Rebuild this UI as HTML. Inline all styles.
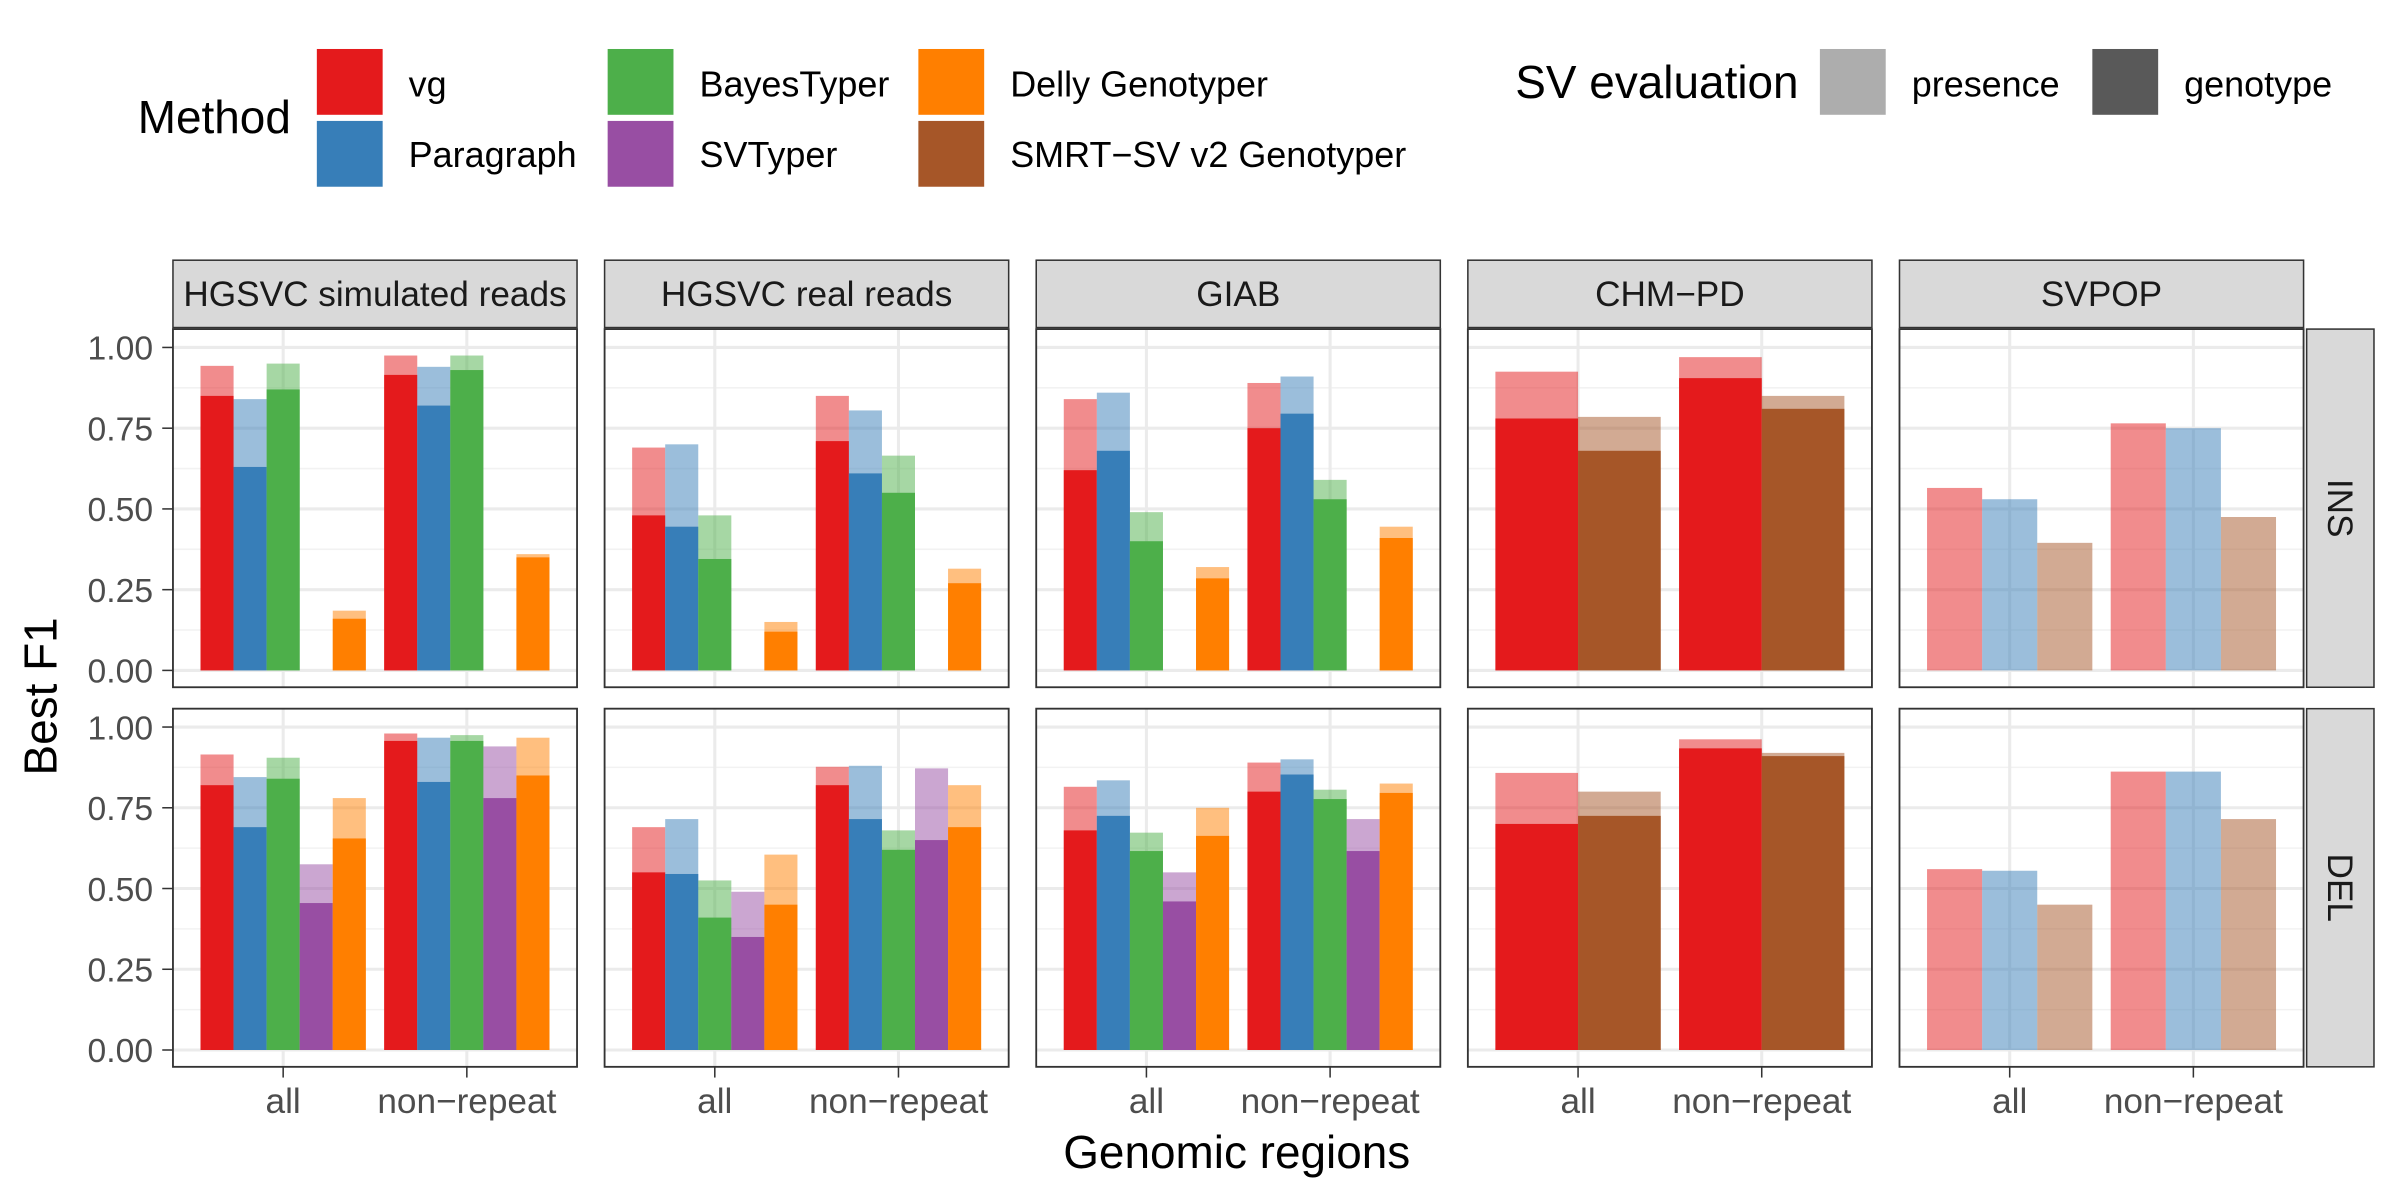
<!DOCTYPE html>
<html><head><meta charset="utf-8"><style>
html,body{margin:0;padding:0;background:#fff;}
svg{display:block;font-family:"Liberation Sans",sans-serif;}
</style></head><body>
<svg id="chart" width="2400" height="1200" viewBox="0 0 1568 784" xmlns="http://www.w3.org/2000/svg">
<g id="legend">
<text x="90" y="87" font-size="30">Method</text>
<rect x="207" y="32" width="43" height="43" fill="#E41A1C"/>
<text x="267" y="63" font-size="23.5">vg</text>
<rect x="207" y="79" width="43" height="43" fill="#377EB8"/>
<text x="267" y="109" font-size="23.5">Paragraph</text>
<rect x="397" y="32" width="43" height="43" fill="#4DAF4A"/>
<text x="457" y="63" font-size="23.5">BayesTyper</text>
<rect x="397" y="79" width="43" height="43" fill="#984EA3"/>
<text x="457" y="109" font-size="23.5">SVTyper</text>
<rect x="600" y="32" width="43" height="43" fill="#FF7F00"/>
<text x="660" y="63" font-size="23.5">Delly Genotyper</text>
<rect x="600" y="79" width="43" height="43" fill="#A65628"/>
<text x="660" y="109" font-size="23.5">SMRT−SV v2 Genotyper</text>
<text x="990" y="64" font-size="30">SV evaluation</text>
<rect x="1189" y="32" width="43" height="43" fill="#ADADAD"/>
<text x="1249" y="63" font-size="23.5">presence</text>
<rect x="1367" y="32" width="43" height="43" fill="#595959"/>
<text x="1427" y="63" font-size="23.5">genotype</text>
</g>
<text x="0" y="0" font-size="30" text-anchor="middle" transform="translate(37,455) rotate(-90)">Best F1</text>
<text x="808" y="763" font-size="30" text-anchor="middle">Genomic regions</text>
<g id="panels"></g>
</svg>
<script>
const datasets = ["HGSVC simulated reads","HGSVC real reads","GIAB","CHM−PD","SVPOP"];
const svTypes = ["INS","DEL"];
const regions = ["all","non−repeat"];
const methodNames = ["vg","Paragraph","BayesTyper","SVTyper","Delly Genotyper","SMRT−SV v2 Genotyper"];
const methodColors = ["#E41A1C","#377EB8","#4DAF4A","#984EA3","#FF7F00","#A65628"];
const panelMethods = [[0,1,2,3,4],[0,1,2,3,4],[0,1,2,3,4],[0,5],[0,1,5]];
const yTicks = [0,0.25,0.5,0.75,1];
const yTickLabels = ["0.00","0.25","0.50","0.75","1.00"];
const presence = [
 [
  [[0.943,0.84,0.95,null,0.185],[0.975,0.94,0.975,null,0.36]],
  [[0.69,0.70,0.48,null,0.15],[0.85,0.805,0.665,null,0.315]],
  [[0.84,0.86,0.49,null,0.32],[0.89,0.91,0.59,null,0.445]],
  [[0.925,0.785],[0.97,0.85]],
  [[0.565,0.53,0.395],[0.765,0.75,0.475]]
 ],
 [
  [[0.915,0.845,0.905,0.575,0.78],[0.98,0.967,0.975,0.94,0.967]],
  [[0.69,0.715,0.525,0.49,0.605],[0.877,0.88,0.68,0.872,0.82]],
  [[0.815,0.835,0.673,0.55,0.75],[0.89,0.90,0.806,0.715,0.825]],
  [[0.858,0.80],[0.962,0.92]],
  [[0.56,0.555,0.45],[0.862,0.862,0.715]]
 ]
];
const genotype = [
 [
  [[0.85,0.63,0.87,null,0.16],[0.915,0.82,0.93,null,0.35]],
  [[0.48,0.445,0.345,null,0.12],[0.71,0.61,0.55,null,0.27]],
  [[0.62,0.68,0.40,null,0.285],[0.75,0.795,0.53,null,0.41]],
  [[0.78,0.68],[0.905,0.81]],
  [[null,null,null],[null,null,null]]
 ],
 [
  [[0.82,0.69,0.84,0.455,0.655],[0.957,0.83,0.957,0.78,0.85]],
  [[0.55,0.545,0.41,0.35,0.45],[0.82,0.715,0.62,0.65,0.69]],
  [[0.68,0.725,0.616,0.46,0.663],[0.80,0.853,0.777,0.616,0.796]],
  [[0.70,0.725],[0.934,0.91]],
  [[null,null,null],[null,null,null]]
 ]
];
const NS="http://www.w3.org/2000/svg";
const root=document.getElementById('panels');
function mk(tag,attrs,parent){const e=document.createElementNS(NS,tag);for(const k in attrs)e.setAttribute(k,attrs[k]);(parent||root).appendChild(e);return e;}
const panelX0=113, panelW=264, panelGap=18;
const rowTop=[215,463], panelH=234;
const yZero=[438,686], yScaleLen=211;
function yPos(r,v){return yZero[r]-v*yScaleLen;}
function xPos(c,u){return panelX0+c*(panelW+panelGap)+(u-0.4)/2.2*panelW;}
datasets.forEach((d,c)=>{
  const x=panelX0+c*(panelW+panelGap);
  const s=mk('rect',{x:x,y:170,width:panelW,height:44,fill:'#D9D9D9',stroke:'#333','stroke-width':1});
  
  
  const t=mk('text',{x:x+panelW/2,y:200,'font-size':23,'text-anchor':'middle',fill:'#1A1A1A'});
  t.textContent=d;
  
  
});
svTypes.forEach((sv,r)=>{
  const s=mk('rect',{x:1507,y:rowTop[r],width:44,height:panelH,fill:'#D9D9D9',stroke:'#333','stroke-width':1});
  
  
  const cy=rowTop[r]+panelH/2;
  const t=mk('text',{x:0,y:0,'font-size':23,'text-anchor':'middle',fill:'#1A1A1A',transform:`translate(1521,${cy}) rotate(90)`});
  t.textContent=sv;
  
  
  yTicks.forEach((v,i)=>{
    const y=yPos(r,v);
    const tl=mk('text',{x:100,y:y+8,'font-size':22,'text-anchor':'end',fill:'#4D4D4D'});
    tl.textContent=yTickLabels[i];
    
    
    mk('line',{x1:106,x2:113,y1:y,y2:y,stroke:'#333','stroke-width':1});
  });
  datasets.forEach((d,c)=>{
    const x=panelX0+c*(panelW+panelGap);
    const g=mk('g',{});
    
    
    mk('rect',{x:x,y:rowTop[r],width:panelW,height:panelH,fill:'#fff'},g);
    for(let k=0;k<yTicks.length-1;k++){const v=(yTicks[k]+yTicks[k+1])/2;mk('line',{x1:x,x2:x+panelW,y1:yPos(r,v),y2:yPos(r,v),stroke:'#F2F2F2','stroke-width':1},g);}
    yTicks.forEach(v=>mk('line',{x1:x,x2:x+panelW,y1:yPos(r,v),y2:yPos(r,v),stroke:'#EBEBEB','stroke-width':2},g));
    regions.forEach((rg,ri)=>{const cx=xPos(c,ri+1);mk('line',{x1:cx,x2:cx,y1:rowTop[r],y2:rowTop[r]+panelH,stroke:'#EBEBEB','stroke-width':2},g);});
    const ms=panelMethods[c];const n=ms.length;const bw=0.9/n;
    regions.forEach((rg,ri)=>{
      ms.forEach((m,mi)=>{
        const u0=ri+1-0.45+mi*bw;
        const bx=xPos(c,u0), bwid=xPos(c,u0+bw)-bx;
        const pv=presence[r][c][ri][mi], gv=genotype[r][c][ri][mi];
        if(pv!=null){
          const b=mk('rect',{x:bx,y:yPos(r,pv),width:bwid,height:yPos(r,0)-yPos(r,pv),fill:methodColors[m],'fill-opacity':0.5},g);
          
          
        }
        if(gv!=null){
          const b=mk('rect',{x:bx,y:yPos(r,gv),width:bwid,height:yPos(r,0)-yPos(r,gv),fill:methodColors[m]},g);
          
          
        }
      });
    });
    mk('rect',{x:x,y:rowTop[r],width:panelW,height:panelH,fill:'none',stroke:'#333','stroke-width':1.2},g);
  });
});
datasets.forEach((d,c)=>{
  regions.forEach((rg,ri)=>{
    const cx=xPos(c,ri+1);
    mk('line',{x1:cx,x2:cx,y1:697,y2:704,stroke:'#333','stroke-width':1});
    const t=mk('text',{x:cx,y:727,'font-size':23,'text-anchor':'middle',fill:'#4D4D4D'});
    t.textContent=rg;
    
    
  });
});
</script>
</body></html>
